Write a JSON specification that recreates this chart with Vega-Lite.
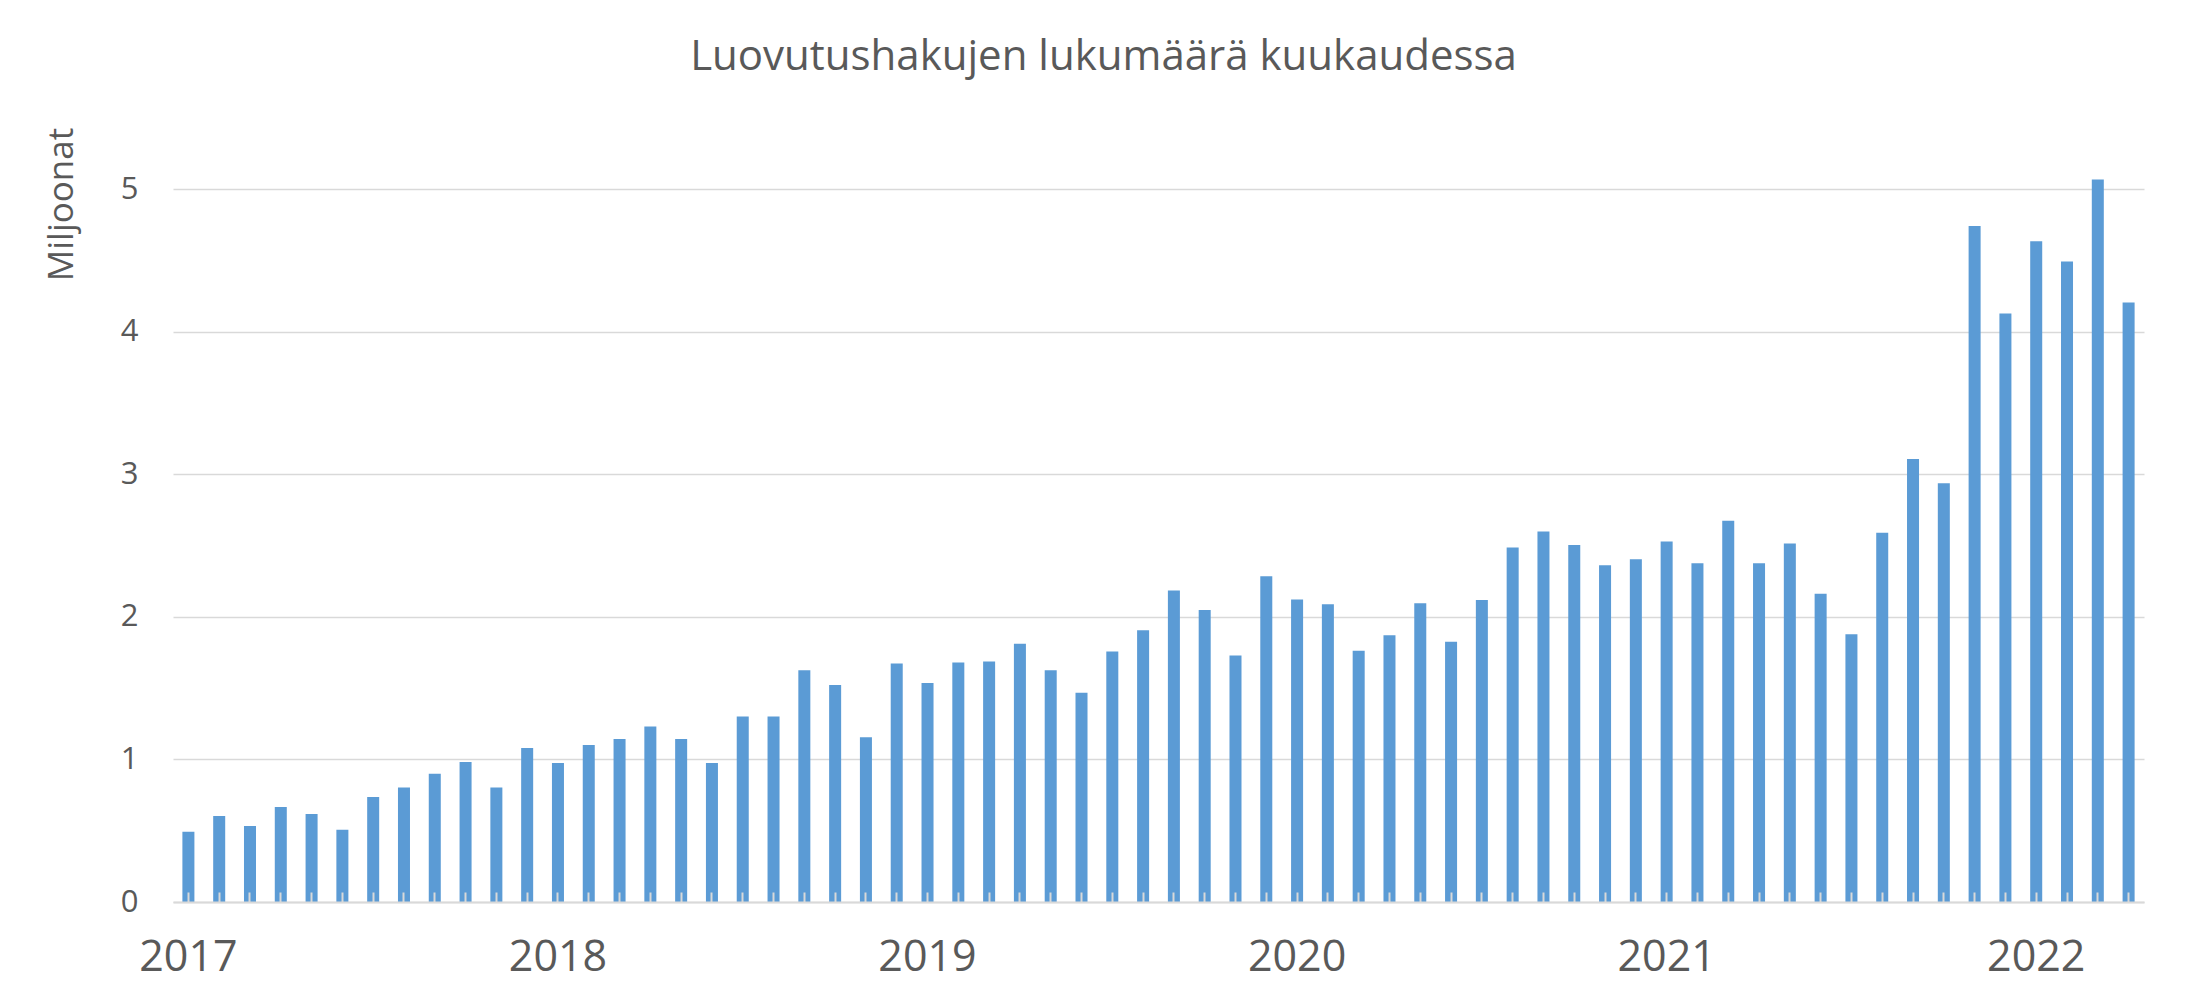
{
  "$schema": "https://vega.github.io/schema/vega-lite/v6.json",
  "width": 1971,
  "height": 784,
  "autosize": "none",
  "padding": {"left": 173, "top": 118, "right": 60, "bottom": 100},
  "background": "white",
  "title": {
    "text": "Luovutushakujen lukumäärä kuukaudessa",
    "font": "Open Sans",
    "fontSize": 42,
    "fontWeight": "normal",
    "color": "#595959",
    "anchor": "middle",
    "frame": "group",
    "dx": -55,
    "baseline": "alphabetic",
    "offset": 6
  },
  "data": {
    "values": [
      {"m": "2017-01", "v": 0.493}, {"m": "2017-02", "v": 0.603}, {"m": "2017-03", "v": 0.533}, {"m": "2017-04", "v": 0.666},
      {"m": "2017-05", "v": 0.617}, {"m": "2017-06", "v": 0.507}, {"m": "2017-07", "v": 0.736}, {"m": "2017-08", "v": 0.804},
      {"m": "2017-09", "v": 0.900}, {"m": "2017-10", "v": 0.982}, {"m": "2017-11", "v": 0.804}, {"m": "2017-12", "v": 1.080},
      {"m": "2018-01", "v": 0.975}, {"m": "2018-02", "v": 1.101}, {"m": "2018-03", "v": 1.143}, {"m": "2018-04", "v": 1.232},
      {"m": "2018-05", "v": 1.143}, {"m": "2018-06", "v": 0.975}, {"m": "2018-07", "v": 1.302}, {"m": "2018-08", "v": 1.302},
      {"m": "2018-09", "v": 1.625}, {"m": "2018-10", "v": 1.522}, {"m": "2018-11", "v": 1.155}, {"m": "2018-12", "v": 1.674},
      {"m": "2019-01", "v": 1.536}, {"m": "2019-02", "v": 1.681}, {"m": "2019-03", "v": 1.688}, {"m": "2019-04", "v": 1.811},
      {"m": "2019-05", "v": 1.625}, {"m": "2019-06", "v": 1.468}, {"m": "2019-07", "v": 1.758}, {"m": "2019-08", "v": 1.907},
      {"m": "2019-09", "v": 2.186}, {"m": "2019-10", "v": 2.048}, {"m": "2019-11", "v": 1.730}, {"m": "2019-12", "v": 2.286},
      {"m": "2020-01", "v": 2.123}, {"m": "2020-02", "v": 2.088}, {"m": "2020-03", "v": 1.763}, {"m": "2020-04", "v": 1.872},
      {"m": "2020-05", "v": 2.095}, {"m": "2020-06", "v": 1.826}, {"m": "2020-07", "v": 2.118}, {"m": "2020-08", "v": 2.487},
      {"m": "2020-09", "v": 2.599}, {"m": "2020-10", "v": 2.504}, {"m": "2020-11", "v": 2.363}, {"m": "2020-12", "v": 2.405},
      {"m": "2021-01", "v": 2.529}, {"m": "2021-02", "v": 2.377}, {"m": "2021-03", "v": 2.674}, {"m": "2021-04", "v": 2.377},
      {"m": "2021-05", "v": 2.515}, {"m": "2021-06", "v": 2.162}, {"m": "2021-07", "v": 1.879}, {"m": "2021-08", "v": 2.590},
      {"m": "2021-09", "v": 3.108}, {"m": "2021-10", "v": 2.938}, {"m": "2021-11", "v": 4.743}, {"m": "2021-12", "v": 4.128},
      {"m": "2022-01", "v": 4.636}, {"m": "2022-02", "v": 4.493}, {"m": "2022-03", "v": 5.068}, {"m": "2022-04", "v": 4.205}
    ]
  },
  "mark": {"type": "bar", "color": "#5B9BD5"},
  "encoding": {
    "x": {
      "field": "m",
      "type": "ordinal",
      "sort": null,
      "scale": {"paddingInner": 0.61, "paddingOuter": 0.305},
      "axis": {
        "title": null,
        "labelExpr": "substring(datum.value, 5, 7) == '01' ? substring(datum.value, 0, 4) : ''",
        "labelAngle": 0,
        "labelOverlap": false,
        "labelFont": "Open Sans",
        "labelFontSize": 43,
        "labelColor": "#595959",
        "labelBaseline": "alphabetic",
        "labelPadding": 78,
        "ticks": true,
        "tickSize": -10,
        "tickColor": "#D9D9D9",
        "tickWidth": 2,
        "domain": true,
        "domainColor": "#D9D9D9",
        "domainWidth": 2,
        "grid": false,
        "zindex": 1
      }
    },
    "y": {
      "field": "v",
      "type": "quantitative",
      "scale": {"domain": [0, 5.5], "nice": false},
      "axis": {
        "title": "Miljoonat",
        "titleFont": "Open Sans",
        "titleFontSize": 35,
        "titleFontWeight": "normal",
        "titleColor": "#595959",
        "titleX": -101,
        "titleY": 86,
        "titleBaseline": "alphabetic",
        "titleAngle": -90,
        "values": [0, 1, 2, 3, 4, 5],
        "labelFont": "Open Sans",
        "labelFontSize": 31,
        "labelColor": "#595959",
        "labelPadding": 35,
        "ticks": false,
        "tickSize": 0,
        "domain": false,
        "grid": true,
        "gridColor": "#D9D9D9",
        "gridWidth": 1.5
      }
    }
  },
  "config": {"view": {"stroke": null}}
}
